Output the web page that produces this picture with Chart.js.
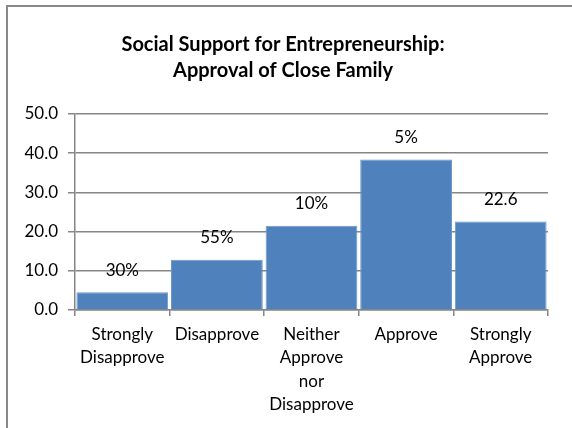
<!DOCTYPE html>
<html>
<head>
<meta charset="utf-8">
<script src="https://cdn.jsdelivr.net/npm/chart.js@4"></script>
<style>
  html, body { margin: 0; padding: 0; background: #fff; overflow: hidden; }
  .wrap { position: relative; width: 572px; height: 428px; }
  .frame { position: absolute; left: 6px; top: 5px; width: 600px; height: 460px;
           border-left: 2px solid #898989; border-top: 2px solid #898989; }
  canvas { position: absolute; left: 0; top: 0; }
</style>
</head>
<body>
<div class="wrap">
  <div class="frame"></div>
  <canvas id="myChart" width="572" height="428"></canvas>
</div>
<script>
// categories, values and the text shown above each bar
const categories = [
  ['Strongly', 'Disapprove'],
  ['Disapprove'],
  ['Neither', 'Approve', 'nor', 'Disapprove'],
  ['Approve'],
  ['Strongly', 'Approve']
];
const values = [4.5, 12.8, 21.5, 38.4, 22.6];
const barLabels = ['30%', '55%', '10%', '5%', '22.6'];
const yTicks = [0, 10, 20, 30, 40, 50];

const FONT = 'Lato, "Open Sans", sans-serif';

// text over the bars, drawn a fixed distance above each bar top
const barTextPlugin = {
  id: 'barText',
  afterDatasetsDraw(chart) {
    const ctx = chart.ctx;
    const meta = chart.getDatasetMeta(0);
    ctx.save();
    ctx.font = '17px ' + FONT;
    ctx.fillStyle = '#000';
    ctx.textAlign = 'center';
    ctx.textBaseline = 'middle';
    meta.data.forEach((bar, i) => {
      ctx.fillText(barLabels[i], bar.x, bar.y - 22);
    });
    ctx.restore();
  }
};

const data = {
  labels: categories,
  datasets: [{
    data: values,
    backgroundColor: '#4F81BD',
    borderColor: '#6a95c9',
    borderWidth: 1,
    barPercentage: 0.97,
    categoryPercentage: 1.0
  }]
};

const config = {
  type: 'bar',
  data,
  options: {
    responsive: false,
    animation: false,
    layout: { padding: { left: 0, right: 6, top: 0, bottom: 0 } },
    plugins: {
      legend: { display: false },
      tooltip: { enabled: false },
      title: {
        display: true,
        text: ['Social Support for Entrepreneurship:', 'Approval of Close Family'],
        color: '#000',
        font: { family: FONT, size: 20, weight: 'bold', lineHeight: 1.3 },
        padding: { top: 32, bottom: 30 }
      }
    },
    scales: {
      x: {
        offset: true,
        afterFit(axis) { axis.height = 118; },
        grid: {
          offset: true,
          drawOnChartArea: false,
          drawTicks: true,
          tickLength: 6,
          color: '#868686',
          lineWidth: 1.5
        },
        border: { color: '#868686', width: 1.5 },
        ticks: {
          color: '#000',
          font: { family: FONT, size: 17, lineHeight: 1.37 },
          maxRotation: 0,
          autoSkip: false,
          padding: 7
        }
      },
      y: {
        min: 0,
        max: 50,
        afterFit(axis) { axis.width = 75; },
        afterBuildTicks(axis) {
          axis.ticks = yTicks.map(v => ({ value: v }));
        },
        grid: {
          color: '#868686',
          lineWidth: 1.5,
          tickLength: 7
        },
        border: { color: '#868686', width: 1.5 },
        ticks: {
          color: '#000',
          font: { family: FONT, size: 17 },
          padding: 10,
          callback: v => Number(v).toFixed(1)
        }
      },
      // empty spacer on the right so the plot ends short of the frame
      spacer: {
        type: 'linear',
        position: 'right',
        min: 0,
        max: 50,
        afterFit(axis) { axis.width = 18; },
        grid: { display: false },
        border: { display: false },
        ticks: { display: false }
      }
    }
  },
  plugins: [barTextPlugin]
};

const myChart = new Chart(document.getElementById('myChart'), config);
</script>
</body>
</html>
